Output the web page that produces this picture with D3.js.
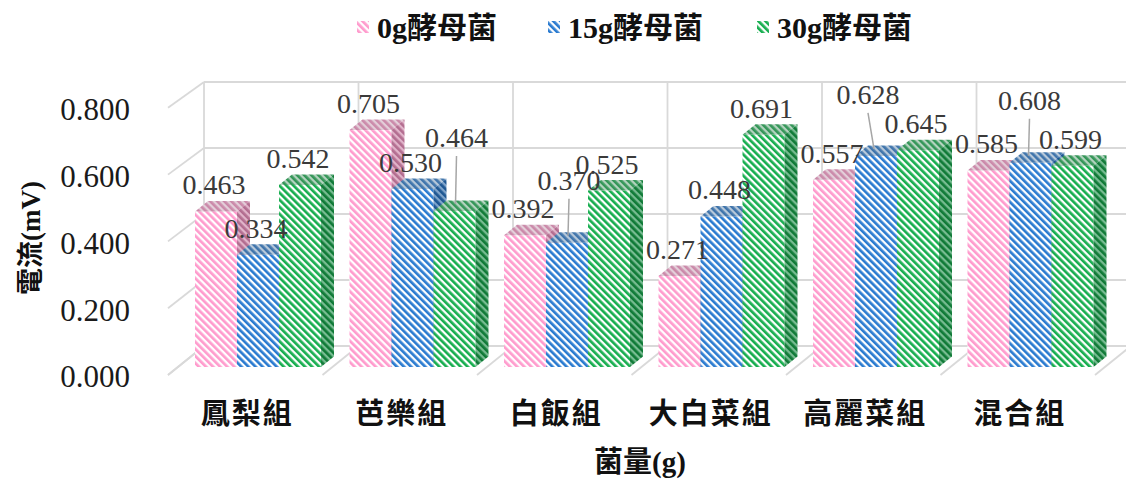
<!DOCTYPE html>
<html>
<head>
<meta charset="utf-8">
<script src="https://cdn.jsdelivr.net/npm/d3@7/dist/d3.min.js"></script>
<style>
  html, body { margin: 0; padding: 0; background: #fff; }
  svg { display: block; }
</style>
</head>
<body>
<svg id="chart" width="1126" height="482"></svg>
<script>
// ---- data ----
const categories = ["鳳梨組", "芭樂組", "白飯組", "大白菜組", "高麗菜組", "混合組"];
const seriesNames = ["0g酵母菌", "15g酵母菌", "30g酵母菌"];
const values0g  = [0.463, 0.705, 0.392, 0.271, 0.557, 0.585];
const values15g = [0.334, 0.530, 0.370, 0.448, 0.628, 0.608];
const values30g = [0.542, 0.464, 0.525, 0.691, 0.645, 0.599];
const yTickValues = [0, 0.2, 0.4, 0.6, 0.8];
const xAxisTitle = "菌量(g)";
const yAxisTitle = "電流(mV)";

// ---- styling ----
const seriesValues = [values0g, values15g, values30g];
const seriesColors = ["#FF9BCD", "#2A7BD0", "#17AE4F"];

// labels that are raised above crowded neighbours and tied back with a leader line
const raisedLabels = {
  "芭樂組|30g酵母菌": { up: 47, dx: 2 },
  "白飯組|15g酵母菌": { up: 36, dx: 2 },
  "高麗菜組|15g酵母菌": { up: 35, dx: -8 },
  "混合組|15g酵母菌": { up: 36, dx: -1 }
};

const svg = d3.select("#chart");
const defs = svg.append("defs");

// ---- 3D geometry (oblique projection) ----
const floorFrontY = 375, depthX = 36, depthY = 29;
const yWallFront = d3.scaleLinear().domain([0, 1]).range([floorFrontY, floorFrontY - 334]);
const yWallBack  = d3.scaleLinear().domain([0, 1]).range([floorFrontY - depthY, floorFrontY - depthY - 330]);
const yBar = d3.scaleLinear().domain([0, 1]).range([367, 367 - 336]);

const x = d3.scaleBand().domain(categories).range([168, 168 + 6 * 154.5]).paddingInner(0).paddingOuter(0);
const xs = d3.scaleBand().domain(seriesNames).range([0, 126]);
const barOffset = 27;
const barDX = 13, barDY = 10.5;

// ---- stripe patterns ----
function stripePattern(id, fg, bg) {
  const p = defs.append("pattern")
    .attr("id", id)
    .attr("patternUnits", "userSpaceOnUse")
    .attr("width", 5).attr("height", 5)
    .attr("patternTransform", "rotate(-45)");
  p.append("rect").attr("width", 5).attr("height", 5).attr("fill", bg);
  p.append("rect").attr("width", 2.7).attr("height", 5).attr("fill", fg);
}
seriesColors.forEach((c, i) => {
  stripePattern("front" + i, c, "#ffffff");
  stripePattern("top" + i, d3.interpolateRgb(c, "#6a6a6a")(0.35), d3.interpolateRgb("#dcdcdc", c)(0.2));
  stripePattern("side" + i, d3.color(c).darker(1.0).formatHex(), d3.interpolateRgb(c, "#c8c8c8")(0.55));
});

const gridColor = "#D9D9D9";
const grid = svg.append("g").attr("stroke", gridColor).attr("stroke-width", 1.8).attr("fill", "none");
const x0 = x.range()[0], x1 = x.range()[1];

// back wall horizontal lines and side wall diagonals
yTickValues.forEach(v => {
  grid.append("line")
    .attr("x1", x0 + depthX).attr("x2", 1160)
    .attr("y1", yWallBack(v)).attr("y2", yWallBack(v));
  grid.append("line")
    .attr("x1", x0).attr("y1", yWallFront(v))
    .attr("x2", x0 + depthX).attr("y2", yWallBack(v));
});
// back wall category dividers and floor dividers
const boundaries = categories.map(c => x(c)).concat([x1]);
boundaries.forEach(bx => {
  grid.append("line")
    .attr("x1", bx + depthX).attr("x2", bx + depthX)
    .attr("y1", yWallBack(0.8)).attr("y2", yWallBack(0));
  grid.append("line")
    .attr("x1", bx).attr("y1", floorFrontY)
    .attr("x2", bx + depthX).attr("y2", floorFrontY - depthY);
});

// ---- bars ----
const bars = [];
categories.forEach((c, ci) => {
  seriesNames.forEach((s, si) => {
    bars.push({ cat: c, series: s, si, value: seriesValues[si][ci] });
  });
});

const barG = svg.append("g");
bars.forEach(b => {
  const bx = x(b.cat) + barOffset + xs(b.series);
  const bw = xs.bandwidth();
  const yt = yBar(b.value), yb = yBar(0);
  const g = barG.append("g");
  g.append("rect")
    .attr("x", bx).attr("y", yt).attr("width", bw).attr("height", yb - yt)
    .attr("fill", `url(#front${b.si})`);
  g.append("polygon")
    .attr("points", [[bx, yt], [bx + bw, yt], [bx + bw + barDX, yt - barDY], [bx + barDX, yt - barDY]].map(p => p.join(",")).join(" "))
    .attr("fill", `url(#top${b.si})`);
  g.append("polygon")
    .attr("points", [[bx + bw, yt], [bx + bw + barDX, yt - barDY], [bx + bw + barDX, yb - barDY], [bx + bw, yb]].map(p => p.join(",")).join(" "))
    .attr("fill", `url(#side${b.si})`);
});

// ---- data labels ----
const labelG = svg.append("g")
  .attr("font-family", "'Liberation Serif', 'Times New Roman', serif")
  .attr("font-size", 28)
  .attr("fill", "#3a3a3a")
  .attr("text-anchor", "middle");
const fmt = d3.format(".3f");
bars.forEach(b => {
  const cx = x(b.cat) + barOffset + xs(b.series) + xs.bandwidth() / 2;
  const yt = yBar(b.value);
  const raise = raisedLabels[b.cat + "|" + b.series];
  let lx = cx - 2, baseY = yt - 17;
  if (raise) {
    lx = cx + raise.dx;
    baseY = yt - 17 - raise.up;
    labelG.append("line")
      .attr("x1", lx).attr("y1", baseY + 9)
      .attr("x2", cx + (raise.dx < 0 ? -2 : 1)).attr("y2", yt - 7)
      .attr("stroke", "#A6A6A6").attr("stroke-width", 1.5);
  }
  labelG.append("text").attr("x", lx).attr("y", baseY).text(fmt(b.value));
});

// ---- y axis tick labels ----
const yAxis = d3.axisLeft(d3.scaleLinear().domain([0, 1]).range([floorFrontY + 2, floorFrontY + 2 - 334]))
  .tickValues(yTickValues).tickFormat(fmt).tickSize(0).tickPadding(0);
const yAxisG = svg.append("g").attr("transform", "translate(130,0)").call(yAxis);
yAxisG.select(".domain").remove();
yAxisG.selectAll("text")
  .attr("font-family", "'Liberation Serif', 'Times New Roman', serif")
  .attr("font-size", 31)
  .attr("fill", "#1a1a1a");

// ---- category labels ----
const cjkFont = "'Liberation Serif', 'Noto Sans CJK TC', 'Noto Sans CJK SC', sans-serif";
svg.append("g")
  .selectAll("text").data(categories).join("text")
  .attr("x", c => x(c) + x.bandwidth() / 2 + 2)
  .attr("y", 424)
  .attr("text-anchor", "middle")
  .attr("font-family", cjkFont)
  .attr("font-weight", 700)
  .attr("font-size", 29)
  .attr("letter-spacing", 2)
  .attr("fill", "#111")
  .text(c => c);

// ---- axis titles ----
svg.append("text")
  .attr("x", 640).attr("y", 472)
  .attr("text-anchor", "middle")
  .attr("font-family", cjkFont).attr("font-weight", 700).attr("font-size", 29)
  .attr("fill", "#111")
  .text(xAxisTitle);

svg.append("text")
  .attr("transform", "translate(40,238) rotate(-90)")
  .attr("text-anchor", "middle")
  .attr("font-family", cjkFont).attr("font-weight", 700).attr("font-size", 27)
  .attr("fill", "#111")
  .text(yAxisTitle);

// ---- legend ----
const legendX = [357, 548, 757];
const legend = svg.append("g");
seriesNames.forEach((s, i) => {
  legend.append("rect")
    .attr("x", legendX[i]).attr("y", 21).attr("width", 12).attr("height", 12)
    .attr("fill", `url(#front${i})`);
  legend.append("text")
    .attr("x", legendX[i] + 20).attr("y", 38)
    .attr("font-family", cjkFont).attr("font-weight", 700).attr("font-size", 30)
    .attr("fill", "#111")
    .text(s);
});
</script>
</body>
</html>
